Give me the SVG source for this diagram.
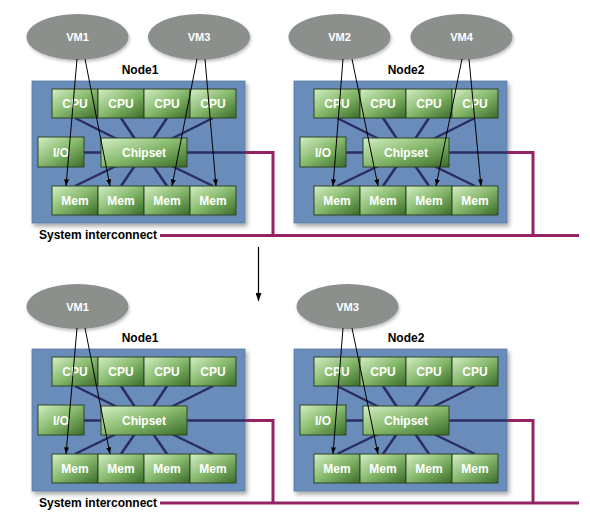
<svg xmlns="http://www.w3.org/2000/svg" width="590" height="526" viewBox="0 0 590 526">
<defs>
  <linearGradient id="cellGrad" x1="0" y1="0" x2="1" y2="1">
    <stop offset="0" stop-color="#d4eec4"/>
    <stop offset="0.5" stop-color="#86b96c"/>
    <stop offset="1" stop-color="#3a6c2a"/>
  </linearGradient>
  <filter id="shadow" x="-10%" y="-10%" width="125%" height="130%">
    <feDropShadow dx="2" dy="3" stdDeviation="2" flood-color="#000" flood-opacity="0.35"/>
  </filter>
  <filter id="vmShadow" x="-10%" y="-10%" width="125%" height="140%">
    <feDropShadow dx="1" dy="2" stdDeviation="1.5" flood-color="#000" flood-opacity="0.25"/>
  </filter>
  <marker id="arrow" viewBox="0 0 8 6" refX="8" refY="3" markerWidth="7" markerHeight="5" markerUnits="userSpaceOnUse" orient="auto">
    <path d="M0,0 L8,3 L0,6 z" fill="#000"/>
  </marker>
  <marker id="arrowBig" viewBox="0 0 8 6" refX="8" refY="3" markerWidth="8" markerHeight="6" markerUnits="userSpaceOnUse" orient="auto">
    <path d="M0,0 L8,3 L0,6 z" fill="#000"/>
  </marker>
</defs>
<style>
  .box { fill: #6b8cba; stroke: #5b7aa6; stroke-width: 0.8; filter: url(#shadow); }
  .cell { fill: url(#cellGrad); stroke: #2c4526; stroke-width: 1; }
  .ctext { font-family: "Liberation Sans", Arial, sans-serif; font-weight: bold; font-size: 12px; fill: #ffffff; text-anchor: middle; }
  .label { font-family: "Liberation Sans", Arial, sans-serif; font-weight: bold; font-size: 12px; fill: #000000; }
  .vm { fill: #8c908c; filter: url(#vmShadow); }
  .vmtext { font-family: "Liberation Sans", Arial, sans-serif; font-weight: bold; font-size: 11px; fill: #ffffff; text-anchor: middle; }
  .bus { stroke: #2a2d62; stroke-width: 2.5; fill: none; }
  .net { stroke: #952262; stroke-width: 3; fill: none; }
  .vmarrow { stroke: #000; stroke-width: 1; fill: none; marker-end: url(#arrow); }
</style>

<!-- Node containers -->
<g id="node1-top"><rect class="box" x="32" y="81" width="213" height="142"/><text class="label" x="140" y="74" text-anchor="middle">Node1</text></g>
<g id="node2-top"><rect class="box" x="294" y="81" width="213" height="142"/><text class="label" x="406" y="74" text-anchor="middle">Node2</text></g>
<g id="node1-bottom"><rect class="box" x="32" y="349" width="213" height="142"/><text class="label" x="140" y="342" text-anchor="middle">Node1</text></g>
<g id="node2-bottom"><rect class="box" x="294" y="349" width="213" height="142"/><text class="label" x="406" y="342" text-anchor="middle">Node2</text></g>

<!-- Internal bus connectors -->
<g id="bus-connectors">
  <path class="bus" d="M144,152.5 L75,118 M144,152.5 L121,118 M144,152.5 L167,118 M144,152.5 L213,118 M144,152.5 L75,186 M144,152.5 L121,186 M144,152.5 L167,186 M144,152.5 L213,186 M61,152.5 H245"/>
  <path class="bus" d="M406,152.5 L337,118 M406,152.5 L383,118 M406,152.5 L429,118 M406,152.5 L475,118 M406,152.5 L337,186 M406,152.5 L383,186 M406,152.5 L429,186 M406,152.5 L475,186 M323,152.5 H507"/>
  <path class="bus" d="M144,420.5 L75,386 M144,420.5 L121,386 M144,420.5 L167,386 M144,420.5 L213,386 M144,420.5 L75,454 M144,420.5 L121,454 M144,420.5 L167,454 M144,420.5 L213,454 M61,420.5 H245"/>
  <path class="bus" d="M406,420.5 L337,386 M406,420.5 L383,386 M406,420.5 L429,386 M406,420.5 L475,386 M406,420.5 L337,454 M406,420.5 L383,454 M406,420.5 L429,454 M406,420.5 L475,454 M323,420.5 H507"/>
</g>

<!-- Components: top Node1 -->
<g id="n1t-cpu1"><rect class="cell" x="52" y="89" width="46" height="29"/><text class="ctext" x="75" y="108">CPU</text></g>
<g id="n1t-cpu2"><rect class="cell" x="98" y="89" width="46" height="29"/><text class="ctext" x="121" y="108">CPU</text></g>
<g id="n1t-cpu3"><rect class="cell" x="144" y="89" width="46" height="29"/><text class="ctext" x="167" y="108">CPU</text></g>
<g id="n1t-cpu4"><rect class="cell" x="190" y="89" width="46" height="29"/><text class="ctext" x="213" y="108">CPU</text></g>
<g id="n1t-io"><rect class="cell" x="38" y="137" width="46" height="30"/><text class="ctext" x="61" y="156.5">I/O</text></g>
<g id="n1t-chipset"><rect class="cell" x="101" y="138" width="86" height="29"/><text class="ctext" x="144" y="157">Chipset</text></g>
<g id="n1t-mem1"><rect class="cell" x="52" y="186" width="46" height="29"/><text class="ctext" x="75" y="205">Mem</text></g>
<g id="n1t-mem2"><rect class="cell" x="98" y="186" width="46" height="29"/><text class="ctext" x="121" y="205">Mem</text></g>
<g id="n1t-mem3"><rect class="cell" x="144" y="186" width="46" height="29"/><text class="ctext" x="167" y="205">Mem</text></g>
<g id="n1t-mem4"><rect class="cell" x="190" y="186" width="46" height="29"/><text class="ctext" x="213" y="205">Mem</text></g>

<!-- Components: top Node2 -->
<g id="n2t-cpu1"><rect class="cell" x="314" y="89" width="46" height="29"/><text class="ctext" x="337" y="108">CPU</text></g>
<g id="n2t-cpu2"><rect class="cell" x="360" y="89" width="46" height="29"/><text class="ctext" x="383" y="108">CPU</text></g>
<g id="n2t-cpu3"><rect class="cell" x="406" y="89" width="46" height="29"/><text class="ctext" x="429" y="108">CPU</text></g>
<g id="n2t-cpu4"><rect class="cell" x="452" y="89" width="46" height="29"/><text class="ctext" x="475" y="108">CPU</text></g>
<g id="n2t-io"><rect class="cell" x="300" y="137" width="46" height="30"/><text class="ctext" x="323" y="156.5">I/O</text></g>
<g id="n2t-chipset"><rect class="cell" x="363" y="138" width="86" height="29"/><text class="ctext" x="406" y="157">Chipset</text></g>
<g id="n2t-mem1"><rect class="cell" x="314" y="186" width="46" height="29"/><text class="ctext" x="337" y="205">Mem</text></g>
<g id="n2t-mem2"><rect class="cell" x="360" y="186" width="46" height="29"/><text class="ctext" x="383" y="205">Mem</text></g>
<g id="n2t-mem3"><rect class="cell" x="406" y="186" width="46" height="29"/><text class="ctext" x="429" y="205">Mem</text></g>
<g id="n2t-mem4"><rect class="cell" x="452" y="186" width="46" height="29"/><text class="ctext" x="475" y="205">Mem</text></g>

<!-- Components: bottom Node1 -->
<g id="n1b-cpu1"><rect class="cell" x="52" y="357" width="46" height="29"/><text class="ctext" x="75" y="376">CPU</text></g>
<g id="n1b-cpu2"><rect class="cell" x="98" y="357" width="46" height="29"/><text class="ctext" x="121" y="376">CPU</text></g>
<g id="n1b-cpu3"><rect class="cell" x="144" y="357" width="46" height="29"/><text class="ctext" x="167" y="376">CPU</text></g>
<g id="n1b-cpu4"><rect class="cell" x="190" y="357" width="46" height="29"/><text class="ctext" x="213" y="376">CPU</text></g>
<g id="n1b-io"><rect class="cell" x="38" y="405" width="46" height="30"/><text class="ctext" x="61" y="424.5">I/O</text></g>
<g id="n1b-chipset"><rect class="cell" x="101" y="406" width="86" height="29"/><text class="ctext" x="144" y="425">Chipset</text></g>
<g id="n1b-mem1"><rect class="cell" x="52" y="454" width="46" height="29"/><text class="ctext" x="75" y="473">Mem</text></g>
<g id="n1b-mem2"><rect class="cell" x="98" y="454" width="46" height="29"/><text class="ctext" x="121" y="473">Mem</text></g>
<g id="n1b-mem3"><rect class="cell" x="144" y="454" width="46" height="29"/><text class="ctext" x="167" y="473">Mem</text></g>
<g id="n1b-mem4"><rect class="cell" x="190" y="454" width="46" height="29"/><text class="ctext" x="213" y="473">Mem</text></g>

<!-- Components: bottom Node2 -->
<g id="n2b-cpu1"><rect class="cell" x="314" y="357" width="46" height="29"/><text class="ctext" x="337" y="376">CPU</text></g>
<g id="n2b-cpu2"><rect class="cell" x="360" y="357" width="46" height="29"/><text class="ctext" x="383" y="376">CPU</text></g>
<g id="n2b-cpu3"><rect class="cell" x="406" y="357" width="46" height="29"/><text class="ctext" x="429" y="376">CPU</text></g>
<g id="n2b-cpu4"><rect class="cell" x="452" y="357" width="46" height="29"/><text class="ctext" x="475" y="376">CPU</text></g>
<g id="n2b-io"><rect class="cell" x="300" y="405" width="46" height="30"/><text class="ctext" x="323" y="424.5">I/O</text></g>
<g id="n2b-chipset"><rect class="cell" x="363" y="406" width="86" height="29"/><text class="ctext" x="406" y="425">Chipset</text></g>
<g id="n2b-mem1"><rect class="cell" x="314" y="454" width="46" height="29"/><text class="ctext" x="337" y="473">Mem</text></g>
<g id="n2b-mem2"><rect class="cell" x="360" y="454" width="46" height="29"/><text class="ctext" x="383" y="473">Mem</text></g>
<g id="n2b-mem3"><rect class="cell" x="406" y="454" width="46" height="29"/><text class="ctext" x="429" y="473">Mem</text></g>
<g id="n2b-mem4"><rect class="cell" x="452" y="454" width="46" height="29"/><text class="ctext" x="475" y="473">Mem</text></g>

<!-- VMs -->
<g id="vm1-top"><ellipse class="vm" cx="77.5" cy="37" rx="51" ry="23"/><text class="vmtext" x="77.5" y="41">VM1</text></g>
<g id="vm3-top"><ellipse class="vm" cx="199" cy="37" rx="51" ry="23"/><text class="vmtext" x="199" y="41">VM3</text></g>
<g id="vm2-top"><ellipse class="vm" cx="339.5" cy="37" rx="51" ry="23"/><text class="vmtext" x="339.5" y="41">VM2</text></g>
<g id="vm4-top"><ellipse class="vm" cx="461.5" cy="37" rx="51" ry="23"/><text class="vmtext" x="461.5" y="41">VM4</text></g>
<g id="vm1-bottom"><ellipse class="vm" cx="77.5" cy="306.5" rx="51" ry="22.5"/><text class="vmtext" x="77.5" y="310.5">VM1</text></g>
<g id="vm3-bottom"><ellipse class="vm" cx="347.5" cy="306.5" rx="51" ry="22.5"/><text class="vmtext" x="347.5" y="310.5">VM3</text></g>

<!-- Labels -->
<g id="interconnect-top"><text class="label" x="39" y="239">System interconnect</text></g>
<g id="interconnect-bottom"><text class="label" x="39" y="507">System interconnect</text></g>

<!-- Connectors -->
<g id="connectors">
  <path class="net" d="M245,152.5 H273 V235.5"/>
  <path class="net" d="M507,152.5 H533 V235.5"/>
  <path class="net" d="M160,235.5 H579"/>
  <path class="net" d="M245,420.5 H273 V503"/>
  <path class="net" d="M507,420.5 H533 V503"/>
  <path class="net" d="M160,503 H579"/>

  <line class="vmarrow" x1="77" y1="59" x2="66" y2="186"/>
  <line class="vmarrow" x1="85" y1="59" x2="110" y2="186"/>
  <line class="vmarrow" x1="197" y1="59" x2="172" y2="186"/>
  <line class="vmarrow" x1="205" y1="59" x2="216" y2="186"/>
  <line class="vmarrow" x1="343" y1="59" x2="333" y2="186"/>
  <line class="vmarrow" x1="352" y1="59" x2="378" y2="186"/>
  <line class="vmarrow" x1="462" y1="59" x2="436" y2="186"/>
  <line class="vmarrow" x1="469" y1="59" x2="481" y2="186"/>

  <line class="vmarrow" x1="77" y1="328" x2="66" y2="454"/>
  <line class="vmarrow" x1="85" y1="328" x2="110" y2="454"/>
  <line class="vmarrow" x1="343" y1="328" x2="333" y2="454"/>
  <line class="vmarrow" x1="352" y1="328" x2="378" y2="454"/>

  <line x1="258.5" y1="247" x2="258.5" y2="301" stroke="#000" stroke-width="1.2" marker-end="url(#arrowBig)"/>
</g>
</svg>
